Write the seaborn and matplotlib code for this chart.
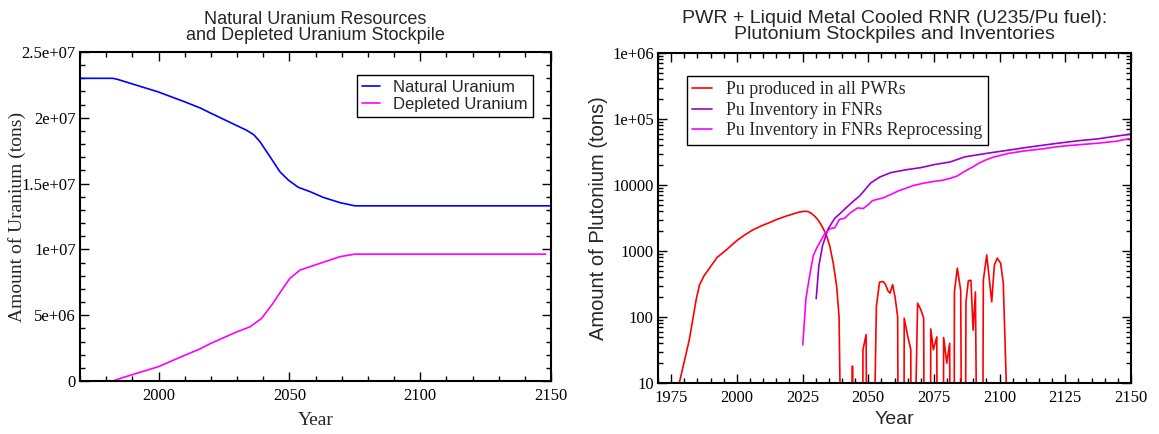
import numpy as np
import matplotlib
matplotlib.use('Agg')
import matplotlib.pyplot as plt
import matplotlib.ticker as mticker
import seaborn as sns

sns.set_style('ticks')
plt.rcParams['font.family'] = ['Liberation Serif', 'DejaVu Serif']

# --- left panel: uranium (tons) ---
nat_u_year = [1970, 1982.6, 1984.7, 2000, 2010.2, 2015.9, 2020, 2030, 2033.7, 2036.5,
              2038.8, 2042.6, 2046.4, 2049.6, 2053.4, 2057.9, 2063, 2069.4, 2075.1, 2150]
nat_u = [2.30e7, 2.30e7, 2.29e7, 2.196e7, 2.12e7, 2.075e7, 2.035e7, 1.94e7, 1.905e7, 1.87e7,
         1.818e7, 1.705e7, 1.59e7, 1.527e7, 1.472e7, 1.439e7, 1.395e7, 1.355e7, 1.331e7, 1.331e7]
dep_u_year = [1970, 1982.6, 1986.2, 2000, 2010.2, 2015.9, 2020, 2030, 2035, 2039.4,
              2043.3, 2047.1, 2050.2, 2054.1, 2061.7, 2069.4, 2075.1, 2148]
dep_u = [0, 0, 2.5e5, 1.09e6, 1.97e6, 2.44e6, 2.86e6, 3.74e6, 4.12e6, 4.76e6,
         5.78e6, 6.91e6, 7.8e6, 8.43e6, 8.94e6, 9.45e6, 9.64e6, 9.64e6]

# --- right panel: plutonium (tons), values below 10 fall off the log axis ---
pu_pwr_year = [1978.1, 1981.9, 1984.6, 1985.8, 1987.5, 1989.6, 1992.5, 1996.0, 2000.0, 2003.0,
               2006.1, 2009.3, 2012.5, 2015.6, 2018.8, 2021.5, 2023.9, 2025.8, 2027.2, 2028.4,
               2029.7, 2030.9, 2032.2, 2033.5, 2034.5, 2035.4, 2036.7, 2038.0, 2038.9, 2039.6,
               2043.9, 2044.0, 2044.1,
               2047.9, 2048.0, 2049.2, 2049.4,
               2052.2, 2053.1, 2054.3, 2055.7, 2056.6, 2057.5, 2058.3, 2059.3, 2060.3, 2061.2, 2061.4,
               2063.6, 2063.7, 2065.0, 2066.2, 2066.3,
               2067.7, 2068.8, 2070.1, 2071.1, 2071.3,
               2073.7, 2073.8, 2074.8, 2076.1, 2076.2,
               2078.6, 2078.7, 2079.9, 2081.0, 2081.1,
               2082.7, 2082.8, 2083.9, 2085.2, 2085.5,
               2087.0, 2087.2, 2088.1, 2089.1, 2089.9, 2090.8, 2091.3,
               2093.6, 2093.8, 2095.1, 2097.0, 2098.0, 2099.1, 2100.4, 2101.4, 2103.3]
pu_pwr = [10, 45, 190, 307, 420, 550, 800, 1040, 1440, 1750,
          2090, 2400, 2700, 3050, 3380, 3650, 3900, 4000, 3950, 3700,
          3350, 2950, 2450, 1950, 1550, 1170, 650, 290, 100, 1,
          1, 18, 1,
          1, 32, 54, 1,
          1, 145, 337, 345, 310, 250, 230, 310, 190, 100, 1,
          1, 96, 52, 32, 1,
          1, 162, 127, 96, 1,
          1, 66, 32, 50, 1,
          1, 49, 20, 40, 1,
          1, 240, 550, 250, 1,
          1, 170, 355, 360, 63, 240, 1,
          1, 360, 870, 170, 610, 780, 650, 325, 1]

fnr_year = [2030.2, 2031.2, 2032.6, 2034.7, 2037.3, 2039.0, 2041.8, 2044.6, 2046.7, 2048.8,
            2050.9, 2054.4, 2058.6, 2064.3, 2069.9, 2075.5, 2081.1, 2086.8, 2091.0, 2096.6,
            2103.6, 2109.2, 2116.3, 2123.3, 2130.3, 2137.4, 2144.4, 2150.0]
fnr_inv = [190, 590, 1200, 2150, 3150, 3600, 4600, 5800, 6800, 8500,
           10700, 13200, 15400, 17000, 18300, 20500, 22300, 26700, 28400, 30800,
           33800, 36600, 40000, 43500, 47000, 50000, 55000, 59000]

rep_year = [2025.1, 2026.3, 2027.7, 2029.1, 2030.5, 2031.9, 2033.3, 2035.4, 2037.3, 2039.0,
            2041.1, 2043.2, 2046.0, 2048.1, 2050.2, 2051.6, 2055.8, 2061.4, 2067.1, 2071.3,
            2075.5, 2078.3, 2081.1, 2083.9, 2086.8, 2089.6, 2092.4, 2095.2, 2098.0, 2103.6,
            2109.2, 2116.3, 2123.3, 2130.3, 2137.4, 2144.4, 2150.0]
rep_inv = [38, 190, 420, 850, 1130, 1420, 1780, 2180, 2250, 3000,
           3150, 3800, 4500, 4400, 5100, 5800, 6400, 8100, 9800, 10700,
           11400, 11800, 12600, 13700, 16200, 18600, 21700, 24400, 26700, 30200,
           32700, 35300, 38600, 40800, 43000, 46000, 51000]

left_yticks = [0, 5e6, 1e7, 1.5e7, 2e7, 2.5e7]
left_ylabels = ['0', '5e+06', '1e+07', '1.5e+07', '2e+07', '2.5e+07']
right_yticks = [10, 100, 1000, 10000, 1e5, 1e6]
right_ylabels = ['10', '100', '1000', '10000', '1e+05', '1e+06']

sans = ['Liberation Sans', 'DejaVu Sans']

fig = plt.figure(figsize=(11.59, 4.34), dpi=100)
ax1 = fig.add_axes([80 / 1159, 1 - 381 / 434, 471 / 1159, 329 / 434])
ax2 = fig.add_axes([658 / 1159, 1 - 383 / 434, 473 / 1159, 330 / 434])

lw = 1.2
sns.lineplot(x=nat_u_year, y=nat_u, ax=ax1, color='#0000ff', lw=lw,
             estimator=None, sort=False, label='Natural Uranium')
sns.lineplot(x=dep_u_year, y=dep_u, ax=ax1, color='#ff00ff', lw=lw,
             estimator=None, sort=False, label='Depleted Uranium')

sns.lineplot(x=pu_pwr_year, y=pu_pwr, ax=ax2, color='#ff0000', lw=lw,
             estimator=None, sort=False, label='Pu produced in all PWRs')
sns.lineplot(x=fnr_year, y=fnr_inv, ax=ax2, color='#9400d3', lw=lw,
             estimator=None, sort=False, label='Pu Inventory in FNRs')
sns.lineplot(x=rep_year, y=rep_inv, ax=ax2, color='#ff00ff', lw=lw,
             estimator=None, sort=False, label='Pu Inventory in FNRs Reprocessing')

# axes, ticks
ax1.set_xlim(1970, 2150)
ax1.set_ylim(0, 2.5e7)
ax1.set_xticks([2000, 2050, 2100, 2150])
ax1.xaxis.set_minor_locator(mticker.MultipleLocator(10))
ax1.set_yticks(left_yticks)
ax1.set_yticklabels(left_ylabels)
ax1.yaxis.set_minor_locator(mticker.MultipleLocator(1e6))

ax2.set_yscale('log')
ax2.set_xlim(1970, 2150)
ax2.set_ylim(10, 1e6)
ax2.set_xticks(np.arange(1975, 2151, 25))
ax2.xaxis.set_minor_locator(mticker.MultipleLocator(5))
ax2.set_yticks(right_yticks)
ax2.set_yticklabels(right_ylabels)
ax2.yaxis.set_minor_locator(mticker.LogLocator(base=10, subs=np.arange(2, 10)))
ax2.yaxis.set_minor_formatter(mticker.NullFormatter())

for ax in (ax1, ax2):
    for s in ax.spines.values():
        s.set_visible(True)
        s.set_linewidth(1.5)
        s.set_color('black')
    ax.tick_params(which='both', direction='in', top=True, right=True,
                   labelsize=12, colors='black', width=1.0)
    ax.tick_params(which='major', length=6.5)
    ax.tick_params(which='minor', length=3.5)
    ax.tick_params(axis='x', pad=5)
    ax.tick_params(axis='y', pad=3)

ax1.set_xlabel('Year', fontsize=14, labelpad=6)
ax1.set_ylabel('Amount of Uranium (tons)', fontsize=14)
ax1.yaxis.set_label_coords(-0.115, 0.5)
ax2.set_xlabel('Year', fontsize=14, family=sans, labelpad=4)
ax2.set_ylabel('Amount of Plutonium (tons)', fontsize=14.5, family=sans)
ax2.yaxis.set_label_coords(-0.106, 0.5)

ax1.set_title('Natural Uranium Resources\nand Depleted Uranium Stockpile',
              fontsize=13, family=sans, linespacing=0.85, pad=9)
ax2.set_title('PWR + Liquid Metal Cooled RNR (U235/Pu fuel):\nPlutonium Stockpiles and Inventories',
              fontsize=14, family=sans, linespacing=0.95, pad=10)

leg1 = ax1.legend(loc='upper right', bbox_to_anchor=(533 / 1159, 1 - 75 / 434),
                  bbox_transform=fig.transFigure, borderaxespad=0,
                  prop={'family': sans, 'size': 12}, handlelength=1.1,
                  handletextpad=0.8, labelspacing=0.1, borderpad=0.3,
                  fancybox=False, framealpha=1, edgecolor='black')
leg1.get_frame().set_linewidth(1.0)

leg2 = ax2.legend(loc='upper left', bbox_to_anchor=(687 / 1159, 1 - 76 / 434),
                  bbox_transform=fig.transFigure, borderaxespad=0,
                  prop={'family': ['Liberation Serif'], 'size': 12.8}, handlelength=1.1,
                  handletextpad=0.8, labelspacing=0.2, borderpad=0.3,
                  fancybox=False, framealpha=1, edgecolor='black')
leg2.get_frame().set_linewidth(1.0)

fig.savefig('out.png', dpi=100)
